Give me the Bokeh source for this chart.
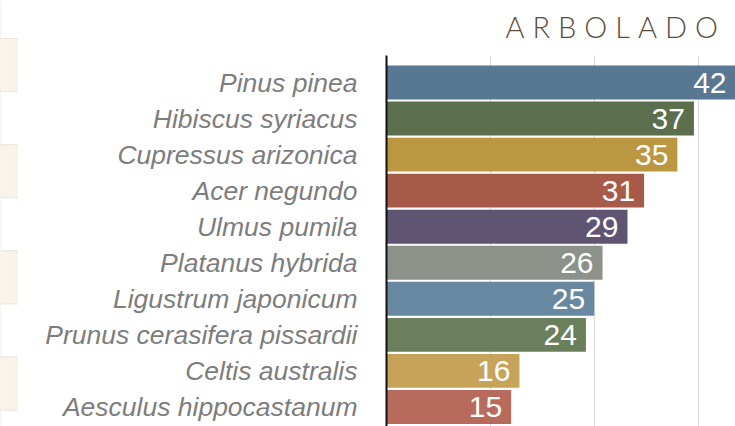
from bokeh.plotting import figure
from bokeh.models import Range1d, FixedTicker, ColumnDataSource, Div
from bokeh.layouts import row, column
from bokeh.core.properties import value
from bokeh.embed import file_html
from bokeh.resources import INLINE

title_text = "ARBOLADO"
species = ["Pinus pinea", "Hibiscus syriacus", "Cupressus arizonica", "Acer negundo",
           "Ulmus pumila", "Platanus hybrida", "Ligustrum japonicum",
           "Prunus cerasifera pissardii", "Celtis australis", "Aesculus hippocastanum"]
counts = [42, 37, 35, 31, 29, 26, 25, 24, 16, 15]
colors = ["#577793", "#5b6e4d", "#bb9742", "#a85a48", "#5f5572",
          "#8c928a", "#6888a2", "#6a805d", "#c7a35a", "#b86a5c"]
grid_ticks = [12.5, 25, 37.5]

# remnant table rows at the far left (alternating shading)
table_rows = [0, 1, 2, 3, 4, 5, 6, 7, 8]
table_fill = ["#ffffff", "#f9f3ea", "#ffffff", "#f9f3ea", "#ffffff",
              "#f9f3ea", "#ffffff", "#f9f3ea", "#ffffff"]

idx = list(range(len(species)))
src = ColumnDataSource(dict(y=idx, v=counts, c=colors, t=[str(c) for c in counts]))

p = figure(width=717, height=378, output_backend="svg", toolbar_location=None,
           x_range=Range1d(0, 42), y_range=Range1d(9.542, -0.749),
           min_border_left=368, min_border_right=0, min_border_top=7, min_border_bottom=0)
p.outline_line_color = None
p.background_fill_color = "white"
p.border_fill_color = "white"

p.hbar(y="y", right="v", left=0, height=0.94, color="c", source=src, line_color=None)
p.text(x="v", y="y", text="t", source=src, text_align="right", text_baseline="middle",
       x_offset=-9, y_offset=0, text_color="white", text_font=value("Liberation Sans"),
       text_font_size="30px")

p.xaxis.visible = False
p.xgrid.ticker = FixedTicker(ticks=grid_ticks)
p.xgrid.grid_line_color = "#d9d9d9"
p.xgrid.grid_line_width = 1
p.ygrid.grid_line_color = None

ya = p.yaxis[0]
ya.ticker = FixedTicker(ticks=idx)
ya.major_label_overrides = {i: s for i, s in zip(idx, species)}
ya.major_tick_line_color = None
ya.minor_tick_line_color = None
ya.axis_line_color = "#111111"
ya.axis_line_width = 2
ya.major_label_standoff = 23
ya.major_label_text_font = "Liberation Sans"
ya.major_label_text_font_style = "italic"
ya.major_label_text_font_size = "26.5px"
ya.major_label_text_color = "#7d7d7d"

title = Div(width=717, height=48, margin=0,
            text='<div style="width:717px;box-sizing:border-box;font-family:Lato, sans-serif;'
                 'font-weight:300;font-size:29px;line-height:29px;letter-spacing:8px;'
                 'color:#5b4c3d;text-align:right;padding:12px 9px 0 0;margin:0;">'
                 + title_text + '</div>')

strip = figure(width=18, height=426, output_backend="svg", toolbar_location=None,
               x_range=Range1d(0, 1), y_range=Range1d(8.307, 0.284),
               min_border=0)
strip.axis.visible = False
strip.grid.visible = False
strip.outline_line_color = None
strip.quad(left=0, right=1, bottom=[r + 1 for r in table_rows], top=table_rows,
           fill_color=table_fill, line_color="#ebe6df", line_width=1)

layout = row(strip, column(title, p))
open("out.html", "w").write(file_html(layout, INLINE))
